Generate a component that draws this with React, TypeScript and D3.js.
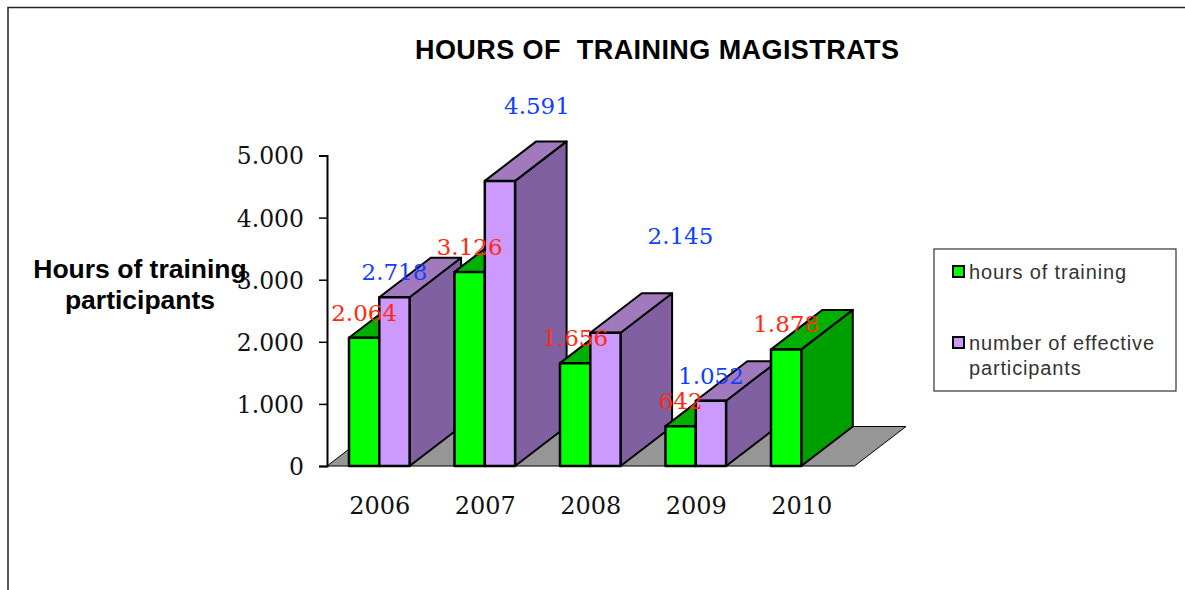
import { useEffect, useRef } from "react";
import * as d3 from "d3";

const years = ["2006", "2007", "2008", "2009", "2010"];
const hoursOfTraining = [2064, 3126, 1656, 642, 1878];
const effectiveParticipants = [2718, 4591, 2145, 1052, null];
const yTicks = [0, 1000, 2000, 3000, 4000, 5000];

const width = 1185;
const height = 590;
const depthX = 51.5;
const depthY = -39.5;
const serifFont = "'DejaVu Serif', serif";
const sansFont = "'Liberation Sans', Arial, sans-serif";

const palettes = {
  hours: { front: "#00ff00", side: "#009f00", top: "#00b000", label: "#ff2a10" },
  people: { front: "#cc99ff", side: "#8060a0", top: "#a07abd", label: "#1040ff" },
};

// the two labels that sit away from their bars in the original
const labelNudge = { "2007-people": [37, -50], "2008-people": [75, -72] };

const x = d3.scaleBand().domain(years).range([327, 854.5]);
const inner = d3.scaleBand().domain(["hours", "people"]).range([22, 82.6]);
const y = d3.scaleLinear().domain([0, 5000]).range([466, 155.5]);
const fmt = d3.formatLocale({ decimal: ",", thousands: ".", grouping: [3], currency: ["", ""] }).format(",");
const poly = d3.line().curve(d3.curveLinearClosed);

const Bar = ({ year, kind, value }) => {
  const c = palettes[kind];
  const x0 = x(year) + inner(kind);
  const x1 = x0 + inner.bandwidth();
  const yTop = y(value);
  const yBase = y(0);
  return (
    <g stroke="#000" strokeLinejoin="round">
      <path strokeWidth={2} fill={c.side} d={poly([[x1, yTop], [x1 + depthX, yTop + depthY], [x1 + depthX, yBase + depthY], [x1, yBase]])} />
      <path strokeWidth={2} fill={c.top} d={poly([[x0, yTop], [x0 + depthX, yTop + depthY], [x1 + depthX, yTop + depthY], [x1, yTop]])} />
      <rect strokeWidth={2.5} fill={c.front} x={x0} y={yTop} width={x1 - x0} height={yBase - yTop} />
    </g>
  );
};

const App = () => {
  const axisRef = useRef(null);

  useEffect(() => {
    const g = d3.select(axisRef.current);
    g.call(d3.axisLeft(y).tickValues(yTicks).tickSize(8).tickPadding(15).tickFormat(d => fmt(d)));
    g.select(".domain").attr("stroke", "#000").attr("stroke-width", 2);
    g.selectAll(".tick line").attr("stroke", "#000").attr("stroke-width", 1.5);
    g.selectAll(".tick text")
      .attr("font-family", serifFont)
      .attr("font-size", 23.5)
      .attr("dy", "0.36em")
      .attr("fill", "#111");
  }, []);

  const series = [
    { kind: "hours", values: hoursOfTraining },
    { kind: "people", values: effectiveParticipants },
  ];
  const floorLeft = x.range()[0];
  const floorRight = x.range()[1];

  return (
    <svg width={width} height={height} style={{ position: "absolute", left: 0, top: 0, background: "#fff" }}>
      <path d="M8,590V7.5H1185" fill="none" stroke="#222" strokeWidth={1.5} />

      <text x={657} y={59} textAnchor="middle" fontFamily={sansFont} fontWeight="bold" fontSize={27} textLength={484} xmlSpace="preserve">
        HOURS OF  TRAINING MAGISTRATS
      </text>

      <path
        fill="#969696"
        stroke="#000"
        strokeWidth={1}
        d={poly([[floorLeft, y(0)], [floorLeft + depthX, y(0) + depthY], [floorRight + depthX, y(0) + depthY], [floorRight, y(0)]])}
      />

      {years.map((year, i) => (
        <g key={year}>
          {series.map(s => (s.values[i] == null ? null : <Bar key={s.kind} year={year} kind={s.kind} value={s.values[i]} />))}
        </g>
      ))}

      <g ref={axisRef} transform={`translate(${floorLeft},0)`} />

      {years.map(year => (
        <text key={year} x={x(year) + x.bandwidth() / 2} y={514} textAnchor="middle" fontFamily={serifFont} fontSize={24} fill="#111">
          {year}
        </text>
      ))}

      {years.map((year, i) =>
        series.map(s => {
          const v = s.values[i];
          if (v == null) return null;
          const [dx, dy] = labelNudge[`${year}-${s.kind}`] || [0, 0];
          return (
            <text
              key={s.kind + year}
              x={x(year) + inner(s.kind) + inner.bandwidth() / 2 + dx}
              y={y(v) - 17 + dy}
              textAnchor="middle"
              fontFamily={serifFont}
              fontSize={23}
              fill={palettes[s.kind].label}
            >
              {fmt(v)}
            </text>
          );
        })
      )}

      <g fontFamily={sansFont} fontWeight="bold" fontSize={26.5} textAnchor="middle" fill="#000">
        <text x={140} y={278}>Hours of training</text>
        <text x={140} y={309}>participants</text>
      </g>

      <rect x={934} y={249} width={242} height={142} fill="#fff" stroke="#333" strokeWidth={1.2} />
      <rect x={953} y={266} width={11} height={11} fill={palettes.hours.front} stroke="#000" strokeWidth={2} />
      <rect x={953} y={337} width={11} height={11} fill={palettes.people.front} stroke="#000" strokeWidth={2} />
      <g fontFamily={sansFont} fontSize={20} fill="#333" letterSpacing={0.85}>
        <text x={969} y={279}>hours of training</text>
        <text x={969} y={350}>number of effective</text>
        <text x={969} y={375}>participants</text>
      </g>
    </svg>
  );
};

export default App;
